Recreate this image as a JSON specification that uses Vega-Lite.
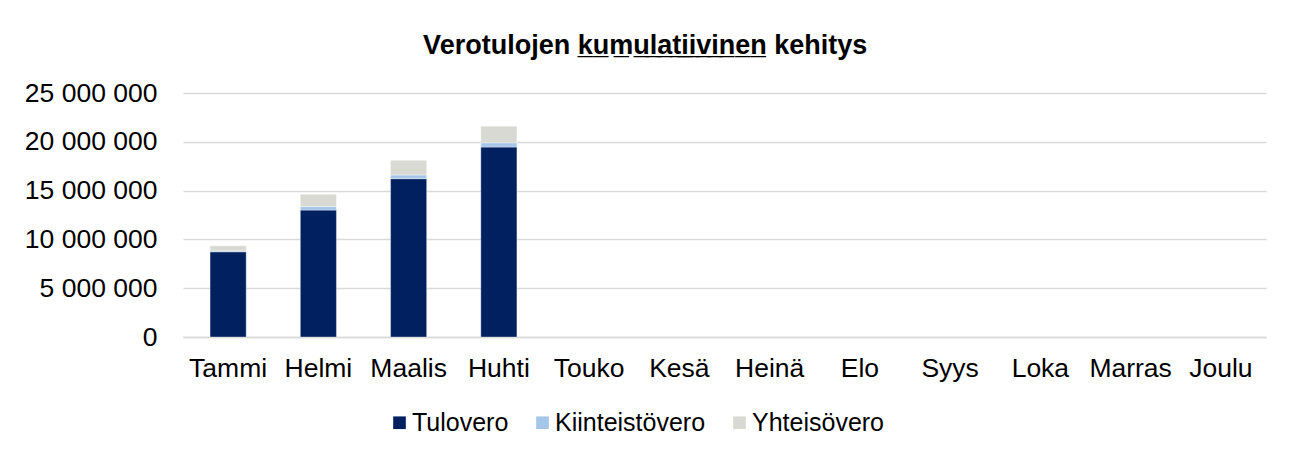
{
  "$schema": "https://vega.github.io/schema/vega-lite/v6.json",
  "width": 1083,
  "height": 244,
  "autosize": {"type": "none"},
  "padding": {"left": 183, "top": 93, "right": 27, "bottom": 121},
  "background": "white",
  "title": {
    "text": "Verotulojen k̲u̲m̲u̲l̲a̲t̲i̲i̲v̲i̲n̲e̲n̲ kehitys",
    "fontSize": 27,
    "fontWeight": "bold",
    "color": "#000000",
    "anchor": "middle",
    "frame": "bounds",
    "offset": 20
  },
  "config": {
    "font": "Liberation Sans",
    "locale": {"number": {"decimal": ",", "thousands": " ", "grouping": [3], "currency": ["", " €"]}},
    "view": {"stroke": null},
    "axis": {"labelFont": "Liberation Sans", "labelColor": "#000000", "labelFontSize": 26.5}
  },
  "data": {
    "values": [
      {"kuukausi": "Tammi", "vero": "Tulovero", "jarj": 1, "arvo": 8730000},
      {"kuukausi": "Tammi", "vero": "Kiinteistövero", "jarj": 2, "arvo": 90000},
      {"kuukausi": "Tammi", "vero": "Yhteisövero", "jarj": 3, "arvo": 530000},
      {"kuukausi": "Helmi", "vero": "Tulovero", "jarj": 1, "arvo": 13000000},
      {"kuukausi": "Helmi", "vero": "Kiinteistövero", "jarj": 2, "arvo": 360000},
      {"kuukausi": "Helmi", "vero": "Yhteisövero", "jarj": 3, "arvo": 1260000},
      {"kuukausi": "Maalis", "vero": "Tulovero", "jarj": 1, "arvo": 16220000},
      {"kuukausi": "Maalis", "vero": "Kiinteistövero", "jarj": 2, "arvo": 380000},
      {"kuukausi": "Maalis", "vero": "Yhteisövero", "jarj": 3, "arvo": 1500000},
      {"kuukausi": "Huhti", "vero": "Tulovero", "jarj": 1, "arvo": 19460000},
      {"kuukausi": "Huhti", "vero": "Kiinteistövero", "jarj": 2, "arvo": 440000},
      {"kuukausi": "Huhti", "vero": "Yhteisövero", "jarj": 3, "arvo": 1700000}
    ]
  },
  "mark": {"type": "bar", "stroke": "#ffffff", "strokeWidth": 0.6, "strokeOpacity": 0.6},
  "encoding": {
    "x": {
      "field": "kuukausi",
      "type": "nominal",
      "scale": {
        "domain": ["Tammi", "Helmi", "Maalis", "Huhti", "Touko", "Kesä", "Heinä", "Elo", "Syys", "Loka", "Marras", "Joulu"],
        "paddingInner": 0.6,
        "paddingOuter": 0.3
      },
      "axis": {
        "title": null,
        "labelAngle": 0,
        "ticks": false,
        "domain": true,
        "domainColor": "#d9d9d9",
        "domainWidth": 1.5,
        "labelPadding": 18
      }
    },
    "y": {
      "field": "arvo",
      "type": "quantitative",
      "stack": "zero",
      "scale": {"domain": [0, 25000000], "nice": false},
      "axis": {
        "title": null,
        "values": [0, 5000000, 10000000, 15000000, 20000000, 25000000],
        "format": ",d",
        "ticks": false,
        "domain": false,
        "grid": true,
        "gridColor": "#d9d9d9",
        "gridWidth": 1.5,
        "labelPadding": 26
      }
    },
    "color": {
      "field": "vero",
      "type": "nominal",
      "scale": {
        "domain": ["Tulovero", "Kiinteistövero", "Yhteisövero"],
        "range": ["#002060", "#a5c6e8", "#d9d9d4"]
      },
      "legend": {
        "title": null,
        "orient": "none",
        "direction": "horizontal",
        "legendX": 204,
        "legendY": 317,
        "symbolType": "square",
        "symbolSize": 160,
        "symbolStrokeWidth": 0,
        "labelFontSize": 25,
        "labelColor": "#000000",
        "labelOffset": 0,
        "columnPadding": 21,
        "padding": 0
      }
    },
    "order": {"field": "jarj", "type": "quantitative"}
  }
}
